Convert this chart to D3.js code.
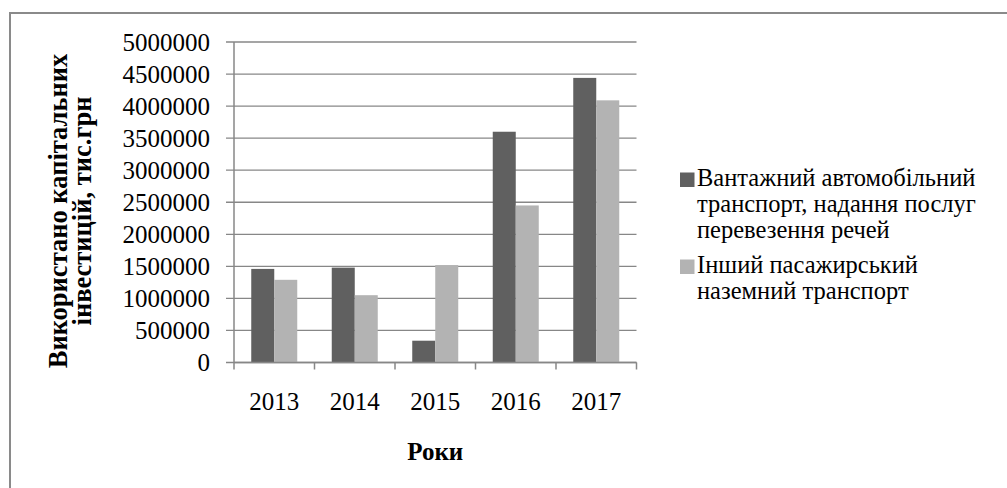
<!DOCTYPE html>
<html>
<head>
<meta charset="utf-8">
<script src="https://cdn.jsdelivr.net/npm/d3@7"></script>
<style>
  html, body { margin: 0; padding: 0; background: #fff; }
  svg text { font-family: "Liberation Serif", "DejaVu Serif", serif; }
</style>
</head>
<body>
<svg id="chart" width="1007" height="488"></svg>
<script>
const years = ["2013", "2014", "2015", "2016", "2017"];
const seriesNames = [
  "Вантажний автомобільний транспорт, надання послуг перевезення речей",
  "Інший пасажирський наземний транспорт"
];
const freightValues = [1460000, 1480000, 340000, 3600000, 4440000];
const passengerValues = [1290000, 1050000, 1520000, 2450000, 4090000];
const yTicks = [0, 500000, 1000000, 1500000, 2000000, 2500000, 3000000, 3500000, 4000000, 4500000, 5000000];
const legendLines = [
  ["Вантажний автомобільний", "транспорт, надання послуг", "перевезення речей"],
  ["Інший пасажирський", "наземний транспорт"]
];
const colors = ["#606060", "#b3b3b3"];
const yTitleLines = ["Використано капітальних", "інвестицій, тис.грн"];
const xTitle = "Роки";

const FONT = "Liberation Serif";
const svg = d3.select("#chart");

// outer frame
svg.append("rect")
  .attr("x", 10).attr("y", 13)
  .attr("width", 1010).attr("height", 490)
  .attr("fill", "none").attr("stroke", "#8a8a8a").attr("stroke-width", 2);

const plot = { left: 234, right: 636.5, top: 42, bottom: 362.5 };

const x = d3.scaleBand().domain(years).range([plot.left, plot.right]).paddingInner(0).paddingOuter(0);
const y = d3.scaleLinear().domain([0, 5000000]).range([plot.bottom, plot.top]);

const gridColor = "#878787";

// gridlines (including tick stubs to the left)
svg.append("g").selectAll("line").data(yTicks).join("line")
  .attr("x1", plot.left - 8).attr("x2", plot.right)
  .attr("y1", d => y(d)).attr("y2", d => y(d))
  .attr("stroke", gridColor).attr("stroke-width", 1.3);

// bars
const groupW = x.bandwidth();
const barW = groupW / 3.5; // gap width 150%
const data = years.map((yr, i) => ({ yr, vals: [freightValues[i], passengerValues[i]] }));
const g = svg.append("g");
data.forEach(d => {
  d.vals.forEach((v, s) => {
    const x0 = x(d.yr) + (groupW - 2 * barW) / 2 + s * barW;
    g.append("rect")
      .attr("x", x0).attr("width", barW)
      .attr("y", y(v)).attr("height", y(0) - y(v))
      .attr("fill", colors[s]);
  });
});

// y axis line
svg.append("line")
  .attr("x1", plot.left).attr("x2", plot.left)
  .attr("y1", plot.top).attr("y2", plot.bottom)
  .attr("stroke", gridColor).attr("stroke-width", 1.5);

// x axis
const xAxis = d3.axisBottom(x).tickSize(0).tickFormat(d => d);
const xg = svg.append("g").attr("transform", `translate(0,${plot.bottom})`).call(xAxis)
  .attr("font-family", FONT);
xg.select(".domain").remove();
xg.selectAll("text")
  .attr("y", 0).attr("dy", null)
  .attr("transform", "translate(0,47)")
  .attr("font-size", 25).attr("fill", "#000")
  .attr("font-family", FONT);
svg.append("line")
  .attr("x1", plot.left).attr("x2", plot.right)
  .attr("y1", plot.bottom).attr("y2", plot.bottom)
  .attr("stroke", gridColor).attr("stroke-width", 1.5);
// x tick marks at category boundaries
const bounds = years.map(yr => x(yr)).concat([plot.right]);
svg.append("g").selectAll("line").data(bounds).join("line")
  .attr("x1", d => d).attr("x2", d => d)
  .attr("y1", plot.bottom).attr("y2", plot.bottom + 7)
  .attr("stroke", gridColor).attr("stroke-width", 1.5);

// y tick labels
const yAxis = d3.axisLeft(y).tickValues(yTicks).tickSize(0).tickFormat(d3.format("d"));
const yg = svg.append("g").attr("transform", `translate(${plot.left},0)`).call(yAxis)
  .attr("font-family", FONT);
yg.select(".domain").remove();
yg.selectAll("text")
  .attr("x", -24)
  .attr("font-size", 25).attr("fill", "#000")
  .attr("font-family", FONT);

// y title
const yt = svg.append("text")
  .attr("transform", "translate(0,211) rotate(-90)")
  .attr("text-anchor", "middle")
  .attr("font-family", FONT)
  .attr("font-weight", "bold").attr("font-size", 26.5).attr("fill", "#000");
yTitleLines.forEach((t, i) => {
  yt.append("tspan").attr("x", 0).attr("y", 67 + i * 24).text(t);
});

// x title
svg.append("text")
  .attr("x", (plot.left + plot.right) / 2).attr("y", 460)
  .attr("text-anchor", "middle")
  .attr("font-family", FONT)
  .attr("font-weight", "bold").attr("font-size", 25).attr("fill", "#000")
  .text(xTitle);

// legend
const legendStarts = [178, 265];
legendLines.forEach((lines, s) => {
  const cy = legendStarts[s];
  svg.append("rect")
    .attr("x", 680).attr("y", cy - 5.5).attr("width", 14.5).attr("height", 14.5)
    .attr("fill", colors[s]);
  const t = svg.append("text")
    .attr("font-family", FONT)
    .attr("font-size", 24.5).attr("fill", "#000");
  lines.forEach((ln, i) => {
    t.append("tspan").attr("x", 697).attr("y", cy + 8 + i * 26).text(ln);
  });
});
</script>
</body>
</html>
